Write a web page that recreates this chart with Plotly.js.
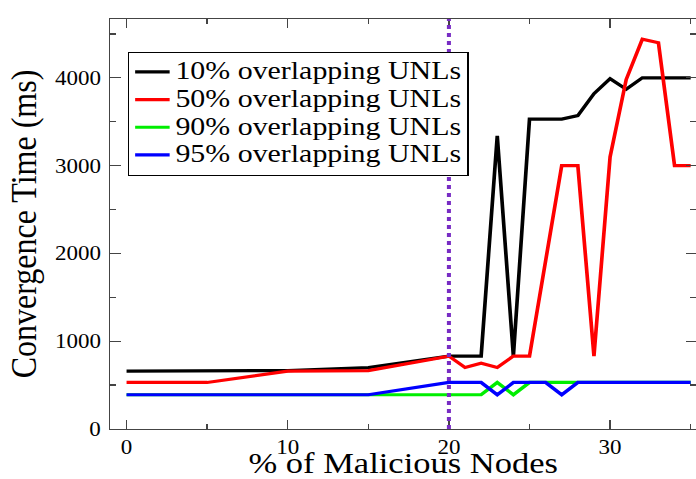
<!DOCTYPE html>
<html>
<head>
<meta charset="utf-8">
<script src="https://cdn.plot.ly/plotly-3.0.1.min.js"></script>
<style>
html,body{margin:0;padding:0;background:#fff;overflow:hidden;}
#plot{width:605px;height:479px;transform:scaleX(1.1504);transform-origin:0 0;}
</style>
</head>
<body>
<div id="plot"></div>
<script>
// Data
const seriesNames = ["10% overlapping UNLs", "50% overlapping UNLs", "90% overlapping UNLs", "95% overlapping UNLs"];
const seriesColors = ["#000000", "#ff0000", "#00ee00", "#0000ff"];

const x10 = [0, 5, 10, 15, 20, 21, 22, 23, 24, 25, 26, 27, 28, 29, 30, 31, 32, 33, 34, 35];
const y10 = [660, 660, 665, 700, 830, 830, 830, 3340, 830, 3530, 3530, 3530, 3570, 3820, 3990, 3870, 4000, 4000, 4000, 4000];

const x50 = [0, 5, 10, 15, 20, 21, 22, 23, 24, 25, 27, 28, 29, 30, 31, 32, 33, 34, 35];
const y50 = [530, 530, 660, 665, 830, 700, 750, 700, 830, 830, 3000, 3000, 830, 3100, 3980, 4440, 4400, 3000, 3000];

const x90 = [0, 5, 10, 15, 20, 21, 22, 23, 24, 25, 26, 27, 28, 29, 30, 31, 32, 33, 34, 35];
const y90 = [390, 390, 390, 390, 390, 390, 390, 530, 390, 530, 530, 530, 530, 530, 530, 530, 530, 530, 530, 530];

const x95 = [0, 5, 10, 15, 20, 21, 22, 23, 24, 25, 26, 27, 28, 29, 30, 31, 32, 33, 34, 35];
const y95 = [390, 390, 390, 390, 530, 530, 530, 390, 530, 530, 530, 390, 530, 530, 530, 530, 530, 530, 530, 530];

const thresholdX = 20;

const xTickVals = [0, 10, 20, 30];
const yTickVals = [0, 1000, 2000, 3000, 4000];

const xs = [x10, x50, x90, x95];
const ys = [y10, y50, y90, y95];

const FONT = "'Liberation Serif', 'Times New Roman', serif";

const traces = xs.map((x, i) => ({
  x: x, y: ys[i], type: 'scatter', mode: 'lines',
  name: '<span style="font-size:26px">' + seriesNames[i] + '</span>',
  line: {color: seriesColors[i], width: 3.2},
  hoverinfo: 'skip'
}));

const axisCommon = {
  showgrid: false, zeroline: false,
  showline: true, linecolor: '#444', linewidth: 1.3,
  mirror: 'ticks', ticks: 'inside', tickcolor: '#444', tickwidth: 1.3, ticklen: 9,
  tickfont: {family: FONT, size: 20, color: '#000'}
};

const layout = {
  width: 605, height: 479,
  margin: {l: 96, r: 0, t: 19, b: 50},
  paper_bgcolor: '#fff', plot_bgcolor: '#fff',
  showlegend: true,
  xaxis: Object.assign({}, axisCommon, {
    range: [-1, 35.33], tickmode: 'array', tickvals: xTickVals, ticktext: xTickVals.map(String),
    minor: {dtick: 5, tick0: 0, ticks: 'inside', ticklen: 5, tickcolor: '#444', tickwidth: 1.3},
    title: {text: '% of Malicious Nodes', font: {family: FONT, size: 30, color: '#000'}, standoff: 7},
    automargin: false
  }),
  yaxis: Object.assign({}, axisCommon, {
    range: [0, 4670], tickmode: 'array', tickvals: yTickVals, ticktext: yTickVals.map(String),
    ticklabelstandoff: 3,
    minor: {dtick: 500, tick0: 0, ticks: 'inside', ticklen: 5, tickcolor: '#444', tickwidth: 1.3},
    title: {text: 'Convergence Time (ms)', font: {family: FONT, size: 32, color: '#000'}, standoff: 6},
    automargin: false
  }),
  legend: {
    x: 0.03, y: 0.92, xanchor: 'left', yanchor: 'top',
    bgcolor: '#fff', bordercolor: '#000', borderwidth: 1.2,
    font: {family: FONT, size: 19, color: '#000'},
    itemwidth: 30, tracegroupgap: 0
  },
  shapes: [{
    type: 'line', xref: 'x', yref: 'paper', x0: thresholdX, x1: thresholdX, y0: 0, y1: 1,
    line: {color: 'rgb(120,44,196)', width: 3.5, dash: '4px,4px'}, layer: 'above'
  }]
};

Plotly.newPlot('plot', traces, layout, {displayModeBar: false, staticPlot: true});
</script>
</body>
</html>
